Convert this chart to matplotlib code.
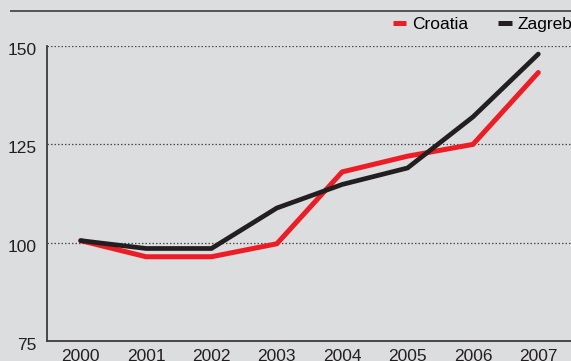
import matplotlib
matplotlib.use("Agg")
import matplotlib.pyplot as plt
import matplotlib.transforms as mtransforms
from matplotlib.lines import Line2D

years = [2000, 2001, 2002, 2003, 2004, 2005, 2006, 2007]
croatia = [100.5, 96.4, 96.4, 99.7, 118.0, 122.0, 125.0, 143.3]
zagreb = [100.5, 98.5, 98.5, 108.8, 114.8, 119.0, 132.0, 148.0]
y_ticks = [75, 100, 125, 150]
series_names = ["Croatia", "Zagreb"]

BG = "#DCDDDF"
RED = "#EE1D25"
BLACK = "#231F20"
AXIS = "#3C3A3B"
FONT = ["Liberation Sans Narrow", "Liberation Sans", "DejaVu Sans"]

plt.rcParams["font.family"] = FONT

W, H = 571, 361
fig = plt.figure(figsize=(W / 100, H / 100), dpi=100, facecolor=BG)

# axes placement in pixels
left_px, right_px = 46.7, 571
bottom_px, top_px = 340.8, 46.2
ax = fig.add_axes([left_px / W, (H - bottom_px) / H,
                   (right_px - left_px) / W, (bottom_px - top_px) / H])
ax.set_facecolor(BG)

ax.plot(years, croatia, color=RED, lw=3.6, solid_capstyle="round",
        solid_joinstyle="miter", zorder=3)
ax.plot(years, zagreb, color=BLACK, lw=3.4, solid_capstyle="round",
        solid_joinstyle="miter", zorder=4)

ax.set_xlim(1999.48, 2007.5)
ax.set_ylim(75, 150)
ax.set_xticks(years)
ax.set_xticklabels([str(y) for y in years])
ax.set_yticks(y_ticks)
ax.set_yticklabels([str(t) for t in y_ticks])

for v in y_ticks[1:]:
    ax.axhline(v, color="#4A4849", lw=0.9, ls=(0, (1.2, 1.6)), zorder=1)

for s in ["top", "right"]:
    ax.spines[s].set_visible(False)
for s in ["left", "bottom"]:
    ax.spines[s].set_color(AXIS)
    ax.spines[s].set_linewidth(1.3)

ax.tick_params(axis="both", length=0, labelsize=12.5, colors="#231F20")
ax.tick_params(axis="y", pad=7)
ax.tick_params(axis="x", pad=6)

shift = mtransforms.ScaledTranslation(0, -3 / 100, fig.dpi_scale_trans)
for lab in ax.get_yticklabels():
    lab.set_transform(lab.get_transform() + shift)

# rule under the heading
fig.add_artist(Line2D([11 / W, 1.0], [1 - 10.9 / H, 1 - 10.9 / H],
                      color="#555354", lw=1.4))

handles = [Line2D([0], [0], color=RED, lw=3.6, solid_capstyle="butt"),
           Line2D([0], [0], color=BLACK, lw=3.6, solid_capstyle="butt")]
fig.legend(handles, series_names, loc="center right",
           bbox_to_anchor=(1.002, 1 - 24 / H), ncol=2, frameon=False,
           fontsize=12.5, handlelength=0.8, handletextpad=0.3,
           columnspacing=1.75, borderpad=0, borderaxespad=0)

fig.savefig("out.png", dpi=100, facecolor=BG)
